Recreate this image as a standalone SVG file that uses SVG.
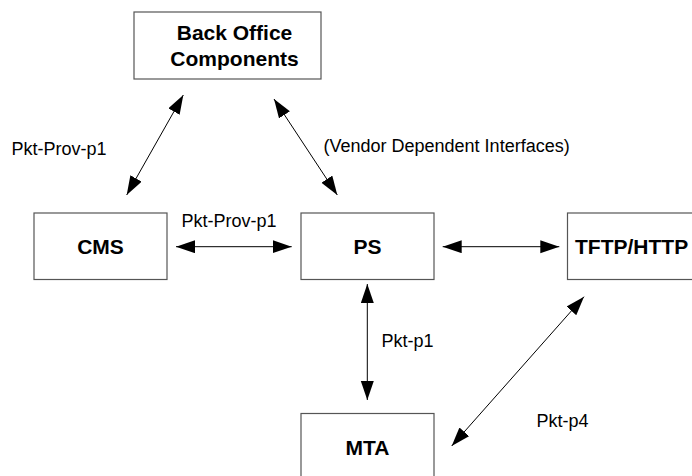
<svg xmlns="http://www.w3.org/2000/svg" width="692" height="476" viewBox="0 0 692 476">
<style>
.box{fill:#fff;stroke:#555;stroke-width:1.2}
.bt{font-family:"Liberation Sans",Arial,sans-serif;font-weight:bold;font-size:21px;fill:#000;text-anchor:middle}
.lt{font-family:"Liberation Sans",Arial,sans-serif;font-size:18px;fill:#000}
.cn{stroke:#000;stroke-width:1;fill:none;marker-start:url(#ah);marker-end:url(#ah)}
</style>
<defs>
<marker id="ah" markerUnits="userSpaceOnUse" markerWidth="20" markerHeight="14" refX="19" refY="6.5" orient="auto-start-reverse" viewBox="0 0 20 14">
<path d="M0,0 L19,6.5 L0,13 z" fill="#000"/>
</marker>
</defs>
<rect width="692" height="476" fill="#fff"/>
<g id="backoffice">
<rect class="box" x="134" y="12" width="187" height="67"/>
<text class="bt" x="234.5" y="39.5">Back Office</text>
<text class="bt" x="234.5" y="66">Components</text>
</g>
<g id="cms">
<rect class="box" x="34" y="213" width="133" height="66.5"/>
<text class="bt" x="100.5" y="254">CMS</text>
</g>
<g id="ps">
<rect class="box" x="301" y="213" width="133" height="66.5"/>
<text class="bt" x="367.5" y="254">PS</text>
</g>
<g id="tftp">
<rect class="box" x="567.5" y="213" width="140" height="66.5"/>
<text class="bt" x="575" y="254" style="text-anchor:start">TFTP/HTTP</text>
</g>
<g id="mta">
<rect class="box" x="301" y="413.5" width="133" height="80"/>
<text class="bt" x="367.5" y="455">MTA</text>
</g>
<g id="connectors">
<line class="cn" x1="126.7" y1="195" x2="183.3" y2="95"/>
<line class="cn" x1="337.3" y1="195" x2="274" y2="99"/>
<line class="cn" x1="176" y1="246.7" x2="291.7" y2="246.7"/>
<line class="cn" x1="442.7" y1="246.7" x2="559.3" y2="246.7"/>
<line class="cn" x1="367.3" y1="284" x2="367.3" y2="400"/>
<line class="cn" x1="451.7" y1="446" x2="584" y2="296.7"/>
</g>
<g id="labels">
<text class="lt" x="11.5" y="155">Pkt-Prov-p1</text>
<text class="lt" x="323.5" y="152">(Vendor Dependent Interfaces)</text>
<text class="lt" x="181.5" y="227">Pkt-Prov-p1</text>
<text class="lt" x="381.5" y="347">Pkt-p1</text>
<text class="lt" x="536.5" y="427">Pkt-p4</text>
</g>
</svg>
